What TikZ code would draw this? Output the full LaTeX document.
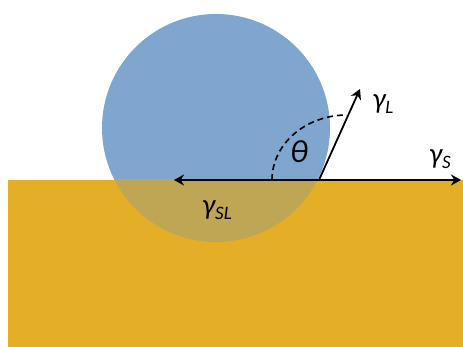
\documentclass[tikz,border=0pt]{standalone}
\usepackage{fontspec}
\setmainfont{Carlito}
\usepackage{xcolor}
\usepackage{tikz}
\usetikzlibrary{arrows.meta}

\definecolor{dropblue}{HTML}{7FA6CF}
\definecolor{solidgold}{HTML}{E4AE26}
\definecolor{wetgold}{HTML}{BEA654}

\newcommand{\gam}[1]{γ\raisebox{-0.35ex}{\fontsize{19}{19}\selectfont #1}}

\begin{document}
\begin{tikzpicture}[
    x=1pt, y=1pt,
    arr/.style={-{Stealth[length=10pt, width=11pt]}, line width=1.8pt},
    angarc/.style={dashed, dash pattern=on 6pt off 4pt, line width=1.6pt},
    lbl/.style={font=\fontsize{29}{29}\selectfont\itshape, inner sep=0pt}
]
\useasboundingbox (0,0) rectangle (463,347);

% drop and substrate
\fill[dropblue] (216,219) circle[radius=114];
\fill[solidgold] (8,0) rectangle (463,167);
\begin{scope}
\clip (8,0) rectangle (463,167);
\fill[wetgold] (216,219) circle[radius=114];
\end{scope}

\coordinate (contact) at (319,167);
\coordinate (ysend) at (461,167);
\coordinate (yslend) at (174,167);
\coordinate (ylend) at (360,258);

\draw[arr] (contact) -- (ysend);
\draw[arr] (contact) -- (yslend);
\draw[arr] (contact) -- (ylend);
\draw[angarc] (272,167) arc[start angle=180, end angle=90, x radius=75, y radius=65];

\node[lbl] (yl) at (383,243) {\gam{L}};
\node[lbl] (ys) at (440,188) {\gam{S}};
\node[lbl] (ysl) at (217,137) {\gam{SL}};
\node[lbl, font=\fontsize{32}{32}\selectfont\itshape] (theta) at (299,195) {θ};
\end{tikzpicture}
\end{document}
